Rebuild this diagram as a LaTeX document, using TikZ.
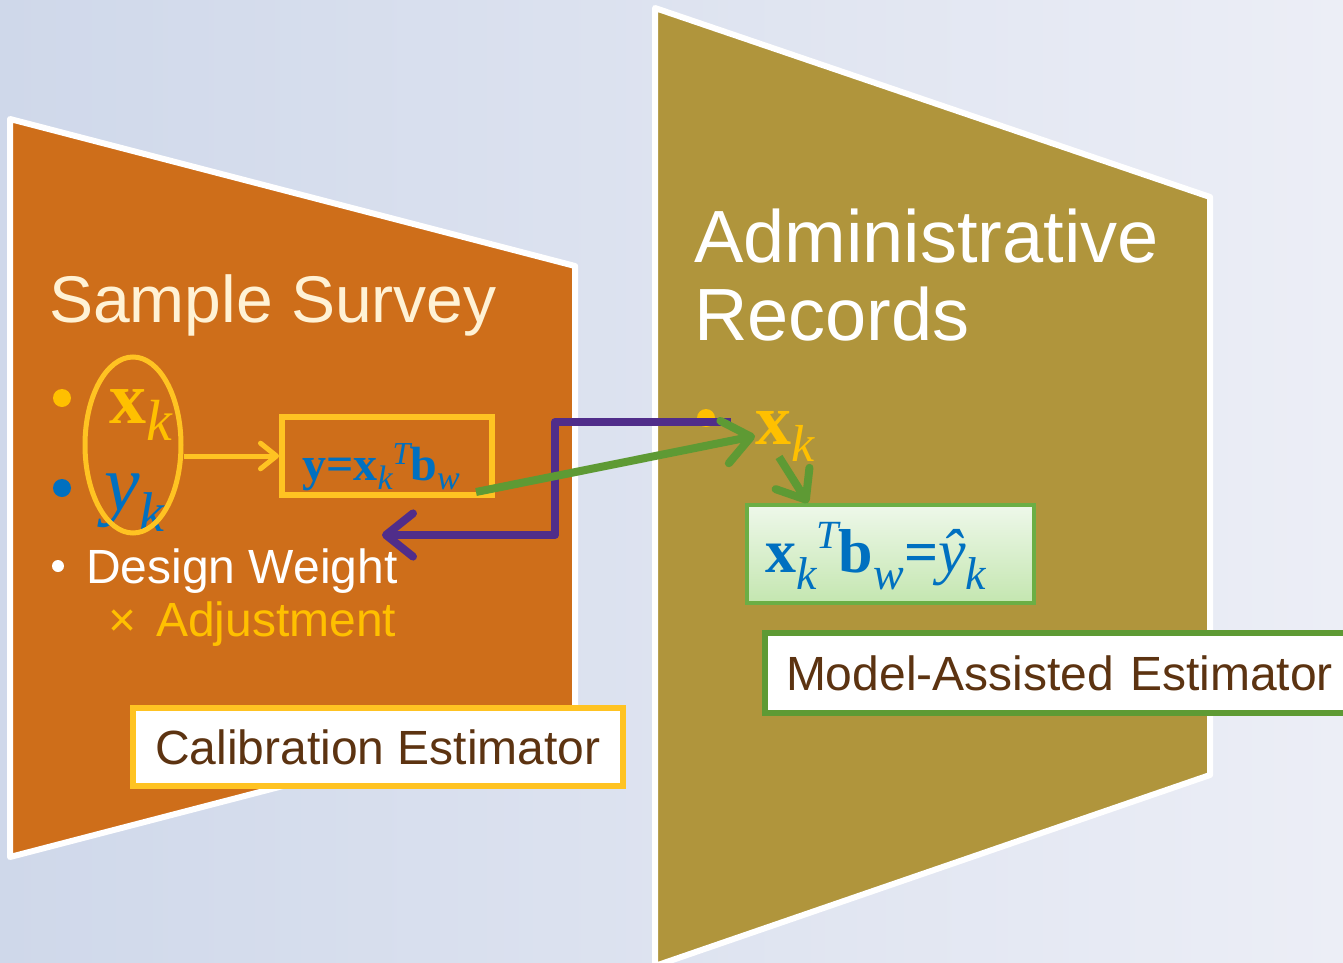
\documentclass[tikz,border=0pt]{standalone}
\usepackage{fontspec}
\setmainfont{Liberation Sans}
\newfontfamily\mser{Liberation Serif}
\usetikzlibrary{arrows.meta,shapes.geometric}
\definecolor{bgL}{HTML}{CFD8EA}
\definecolor{bgR}{HTML}{ECEEF6}
\definecolor{orangeF}{HTML}{CE6E1A}
\definecolor{goldF}{HTML}{B0953C}
\definecolor{creamT}{HTML}{FFF2D5}
\definecolor{yelT}{HTML}{FFC000}
\definecolor{yelB}{HTML}{FFC322}
\definecolor{blueT}{HTML}{0070C0}
\definecolor{purpleL}{HTML}{502D8A}
\definecolor{greenL}{HTML}{5E9A34}
\definecolor{greenB}{HTML}{6BAE45}
\definecolor{greenTop}{HTML}{EEF8EA}
\definecolor{greenBot}{HTML}{C4E6B0}
\definecolor{brownT}{HTML}{5C3311}
\newcommand\mfs[1]{\fontsize{#1}{#1}\selectfont}
\begin{document}
\begin{tikzpicture}[x=1pt,y=-1pt,
  panel/.style={draw=white, line width=6pt, line join=round},
  lbl/.style={inner sep=0pt, anchor=base west},
  estbox/.style={fill=white, line width=6pt, inner sep=0pt, font=\mfs{48}, text=brownT},
  barb/.style={-{Straight Barb[round,length=#1pt,width=1.6*#1pt]}}]
\useasboundingbox (0,0) rectangle (1343,963);
\begin{scope}
\clip (0,0) rectangle (1343,963);
\shade[left color=bgL, right color=bgR] (0,0) rectangle (1343,963);
% panels
\draw[panel, fill=orangeF] (10,119) -- (575,266) -- (575,710) -- (10,857) -- cycle;
\draw[panel, fill=goldF] (655,8) -- (1210,197) -- (1210,775) -- (655,966) -- cycle;
% titles
\node[lbl, text=creamT, font=\mfs{66}] (t1) at (49,322) {Sample Survey};
\node[lbl, text=white, font=\mfs{74}] (t2) at (694,262) {Administrative};
\node[lbl, text=white, font=\mfs{74}] (t3) at (694,340) {Records};
% left list
\fill[yelT] (62,398) circle (9);
\fill[blueT] (62,488) circle (9);
\fill[white] (58,566) circle (6);
\node[lbl, text=yelT] (xl) at (109,423) {{\mser\bfseries\mfs{74}x}\raisebox{-17pt}{\mser\itshape\mfs{58}k}};
\node[lbl, text=blueT] (yl) at (104,510) {{\mser\itshape\mfs{80}y}\raisebox{-21pt}{\mser\itshape\mfs{56}k}};
\node[draw=yelB, line width=5pt, ellipse, minimum width=96pt, minimum height=176pt, inner sep=0pt] (ell) at (133,445) {};
\node[lbl, text=white, font=\mfs{48}] (dw) at (86,583) {Design Weight};
\node[lbl, text=yelT, font=\mfs{48}] (adj) at (108,636) {×\hspace{20pt}Adjustment};
% formula box 1
\node[draw=yelB, line width=6pt, minimum width=210pt, minimum height=78pt, inner sep=0pt] (f1) at (387,456) {};
\node[lbl, text=blueT] (f1t) at (302,480) {{\mser\bfseries\mfs{48}y=x}\raisebox{-9pt}{\mser\itshape\mfs{34}k}\raisebox{16pt}{\mser\itshape\mfs{32}T}{\mser\bfseries\mfs{48}b}\raisebox{-9pt}{\mser\itshape\mfs{34}w}};
\draw[yelB, line width=5pt, barb=16] (ell.east |- f1.west) -- (f1.west);
% right list
\fill[yelT] (706,418) circle (9);
\node[lbl, text=yelT] (xr) at (755,444) {{\mser\bfseries\mfs{72}x}\raisebox{-17pt}{\mser\itshape\mfs{52}k}};
% formula box 2
\node[draw=greenB, line width=4pt, top color=greenTop, bottom color=greenBot, minimum width=287pt, minimum height=98pt, inner sep=0pt] (f2) at (890.5,554) {};
\node[lbl, text=blueT] (f2t) at (765,572) {{\mser\bfseries\mfs{62}x}\raisebox{-17pt}{\mser\itshape\mfs{46}k}\raisebox{24pt}{\mser\itshape\mfs{40}T}{\mser\bfseries\mfs{62}b}\raisebox{-17pt}{\mser\itshape\mfs{46}w}{\mser\bfseries\mfs{60}=}{\mser\itshape\mfs{62}\^y}\raisebox{-17pt}{\mser\itshape\mfs{46}k}};
% connectors
\coordinate (pA) at (731,422);
\coordinate (pM) at (555,535);
\coordinate (pB) at (382,535);
\draw[purpleL, line width=8pt, line join=round, barb=27] (pA) -| (pM) -- (pB);
\coordinate (gA) at (476,492);
\draw[greenL, line width=8pt, barb=27] (gA) -- (xr.west);
\coordinate (gS) at (779,457);
\coordinate (gE) at (808,503);
\draw[greenL, line width=8pt, barb=25] (gS) -- (gE);
% estimator boxes
\node[estbox, draw=yelB, minimum width=490pt, minimum height=78pt] (cal) at (378,747) {Calibration Estimator};
\node[estbox, draw=greenL, anchor=north west, minimum height=80pt, text width=548pt, align=left, inner xsep=21pt] (mod) at (762,630) {Model-Assisted Estimator};
\end{scope}
\end{tikzpicture}
\end{document}
